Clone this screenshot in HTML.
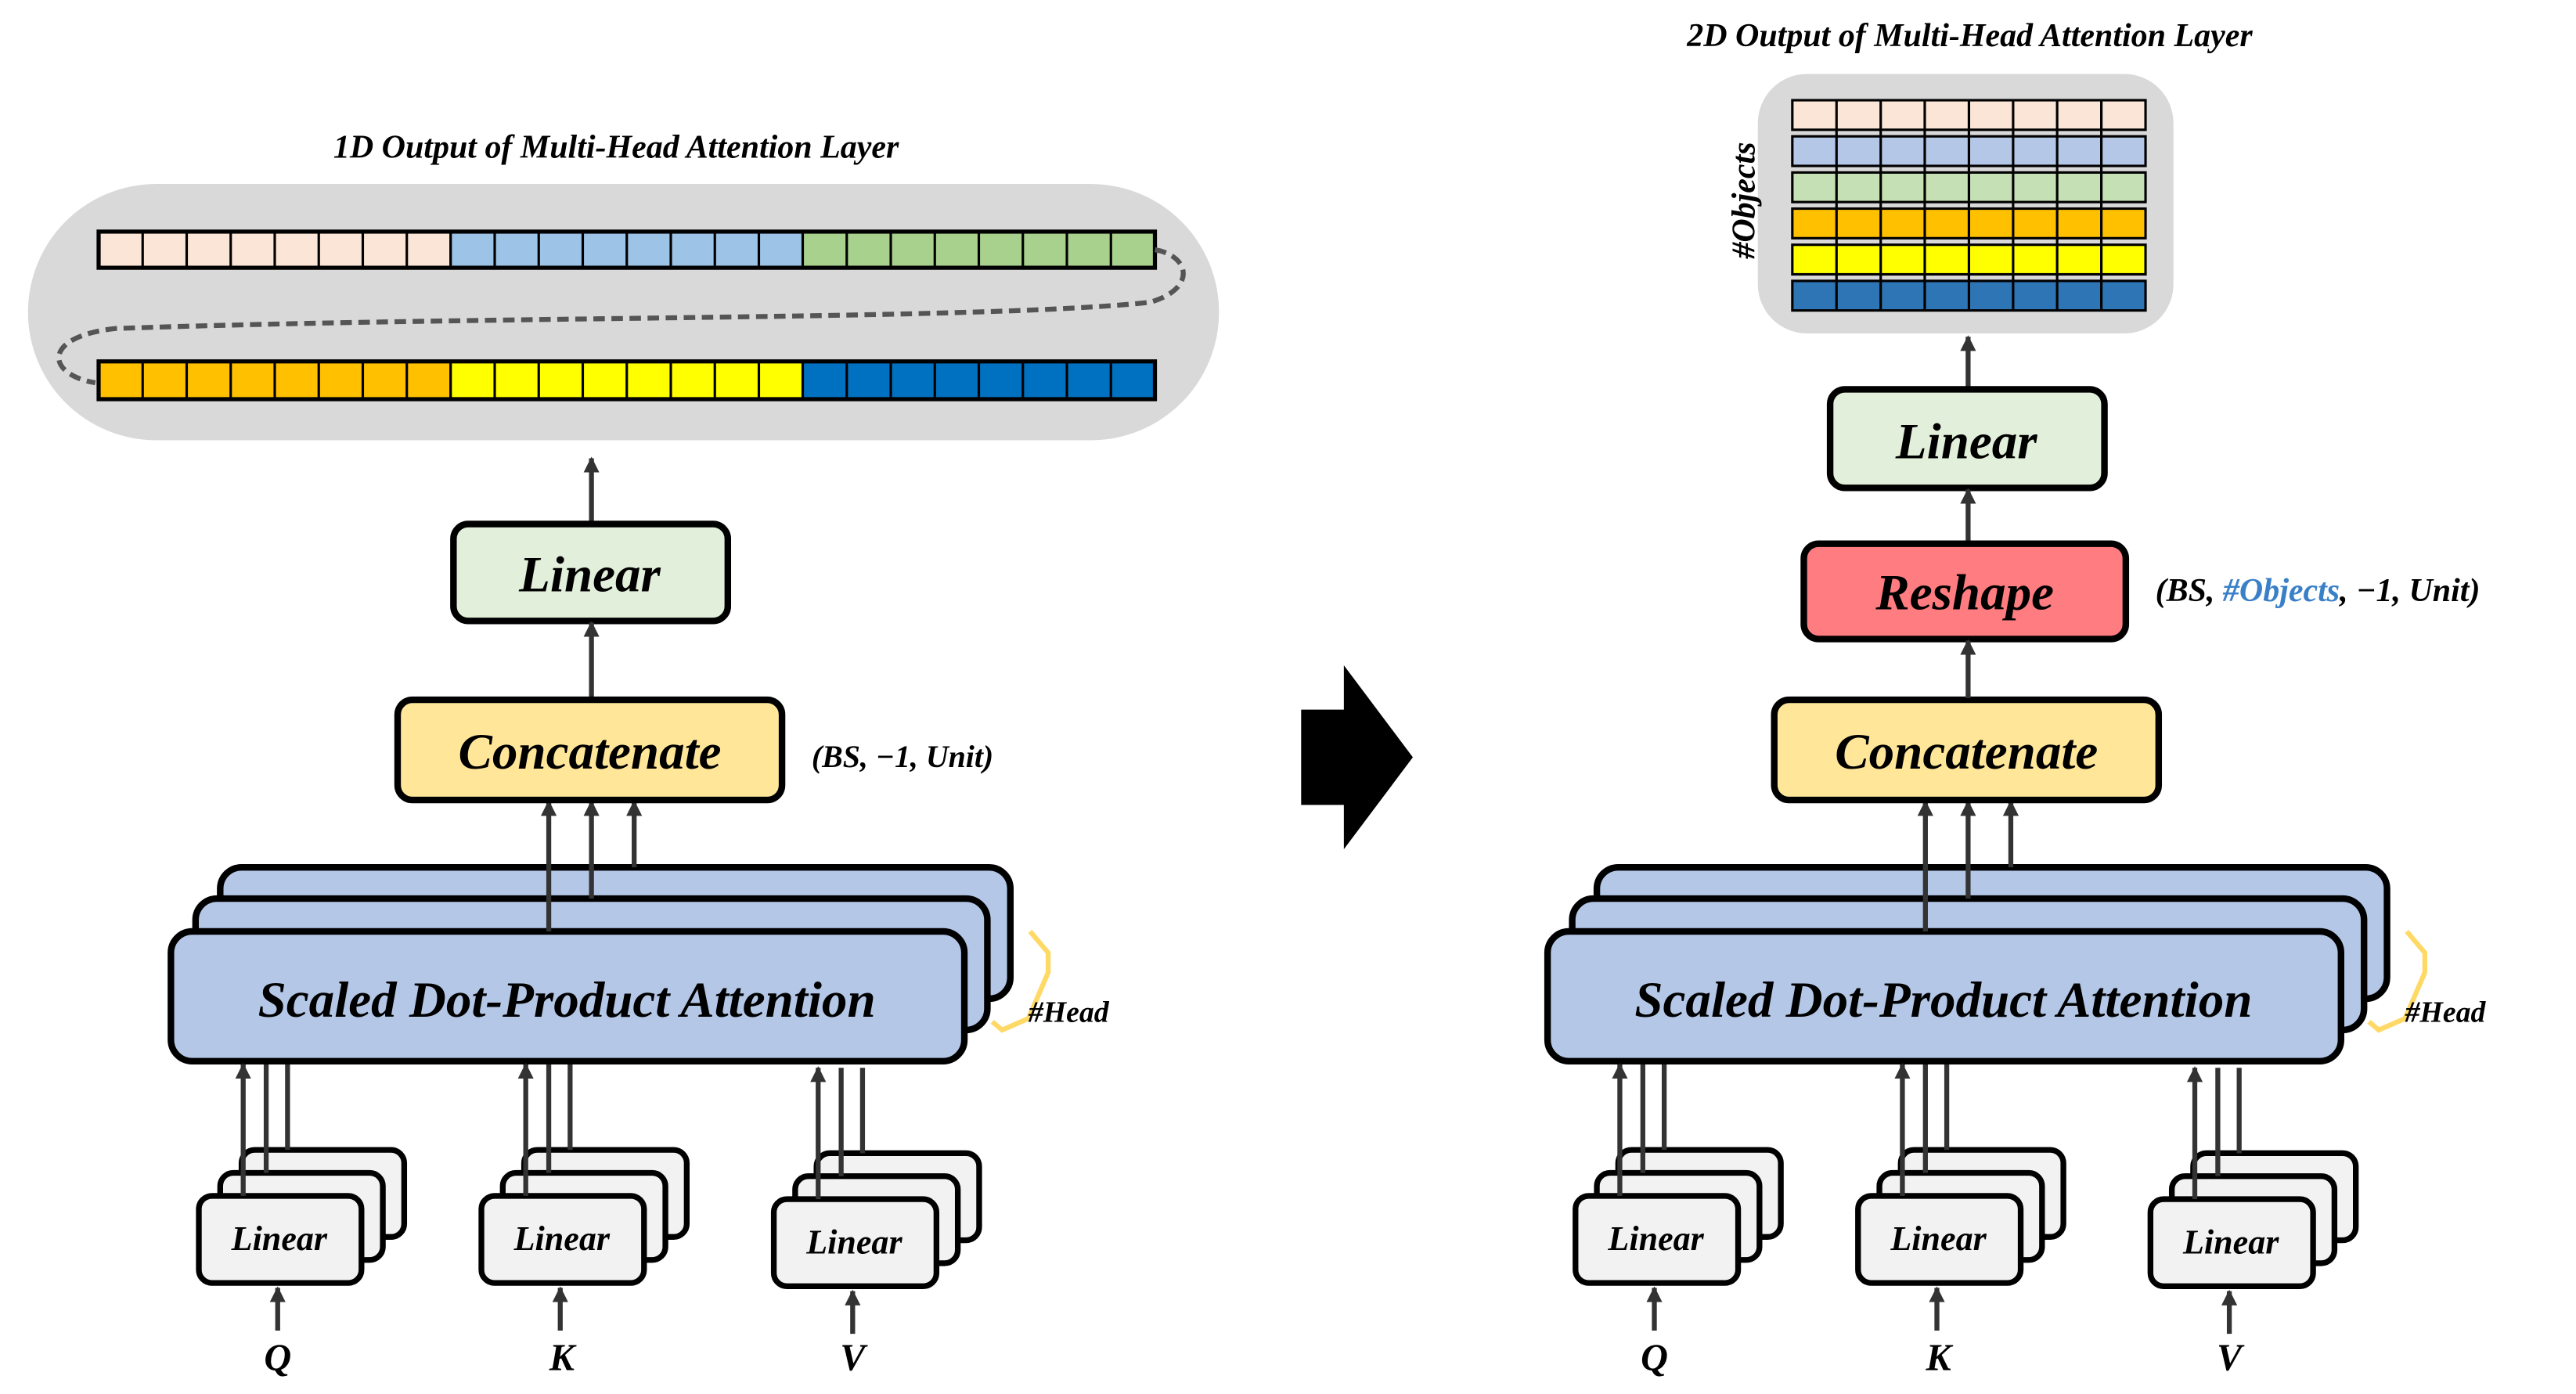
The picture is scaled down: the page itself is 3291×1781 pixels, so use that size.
<!DOCTYPE html>
<html><head><meta charset="utf-8"><style>
html,body{margin:0;padding:0;background:#fff;}
svg{display:block;}
svg text{font-family:"Liberation Serif","Times New Roman","DejaVu Serif",serif;font-weight:bold;font-style:italic;fill:#000;}
</style></head><body>
<svg width="3291" height="1781" viewBox="0 0 1568 848.6" xmlns="http://www.w3.org/2000/svg" font-family="Liberation Serif, Times New Roman, DejaVu Serif, serif" font-weight="bold" font-style="italic">
<defs>
<marker id="ah" viewBox="0 0 10 10" refX="9" refY="5" markerWidth="3.2" markerHeight="3.2" orient="auto" markerUnits="strokeWidth">
<path d="M0,0 L10,5 L0,10 z" fill="#333"/></marker>
<g id="lin">
 <rect x="26" y="-28" width="99" height="53" rx="8" fill="#f2f2f2" stroke="#000" stroke-width="3.5"/>
 <rect x="13" y="-14" width="99" height="53" rx="8" fill="#f2f2f2" stroke="#000" stroke-width="3.5"/>
 <rect x="0" y="0" width="99" height="53" rx="8" fill="#f2f2f2" stroke="#000" stroke-width="3.5"/>
 <text x="49" y="33" font-size="21" text-anchor="middle">Linear</text>
 <line x1="27" y1="0" x2="27" y2="-80" stroke="#333" stroke-width="3" marker-end="url(#ah)"/>
 <line x1="41" y1="-14" x2="41" y2="-80" stroke="#333" stroke-width="3"/>
 <line x1="54" y1="-28" x2="54" y2="-80" stroke="#333" stroke-width="3"/>
 <line x1="48" y1="82" x2="48" y2="56" stroke="#333" stroke-width="3" marker-end="url(#ah)"/>
</g>
<g id="bottom">
 <rect x="134" y="528" width="481" height="80" rx="13" fill="#b4c7e7" stroke="#000" stroke-width="4"/>
 <rect x="119" y="547" width="482" height="80" rx="13" fill="#b4c7e7" stroke="#000" stroke-width="4"/>
 <rect x="104" y="567" width="483" height="79" rx="13" fill="#b4c7e7" stroke="#000" stroke-width="4"/>
 <text x="345" y="619" font-size="31" text-anchor="middle">Scaled Dot-Product Attention</text>
 <path d="M627,567 L638,580 L638,592 L626,620 L610,627 L604,622" fill="none" stroke="#ffd966" stroke-width="3"/>
 <text x="626" y="622" font-size="18">#Head</text>
 <line x1="334" y1="567" x2="334" y2="488" stroke="#333" stroke-width="3" marker-end="url(#ah)"/>
 <line x1="360" y1="547" x2="360" y2="488" stroke="#333" stroke-width="3" marker-end="url(#ah)"/>
 <line x1="386" y1="528" x2="386" y2="488" stroke="#333" stroke-width="3" marker-end="url(#ah)"/>
 <rect x="242" y="426" width="234" height="61" rx="9" fill="#ffe699" stroke="#000" stroke-width="4"/>
 <text x="359" y="468" font-size="31" text-anchor="middle">Concatenate</text>
 <use href="#lin" x="121" y="728"/>
 <use href="#lin" x="293" y="728"/>
 <use href="#lin" x="471" y="730"/>
 <text x="169" y="834" font-size="23" text-anchor="middle">Q</text>
 <text x="342" y="834" font-size="23" text-anchor="middle">K</text>
 <text x="519" y="834" font-size="23" text-anchor="middle">V</text>
</g>
</defs>

<!-- LEFT -->
<text x="375" y="96" font-size="20" text-anchor="middle">1D Output of Multi-Head Attention Layer</text>
<rect x="17" y="112" width="725" height="156" rx="78" fill="#d9d9d9"/>
<g stroke="#000" stroke-width="1.5">
<rect x="60" y="141" width="214.3" height="22" fill="#fbe5d6"/>
<rect x="274.3" y="141" width="214.3" height="22" fill="#9dc3e6"/>
<rect x="488.6" y="141" width="214.4" height="22" fill="#a9d18e"/>
<rect x="60" y="220" width="214.3" height="23" fill="#ffc000"/>
<rect x="274.3" y="220" width="214.3" height="23" fill="#ffff00"/>
<rect x="488.6" y="220" width="214.4" height="23" fill="#0070c0"/>
<path d="M86.8,141v22M113.6,141v22M140.4,141v22M167.2,141v22M194,141v22M220.8,141v22M247.6,141v22M301.1,141v22M327.9,141v22M354.7,141v22M381.5,141v22M408.3,141v22M435.1,141v22M461.9,141v22M515.4,141v22M542.2,141v22M569,141v22M595.8,141v22M622.6,141v22M649.4,141v22M676.2,141v22"/>
<path d="M86.8,220v23M113.6,220v23M140.4,220v23M167.2,220v23M194,220v23M220.8,220v23M247.6,220v23M301.1,220v23M327.9,220v23M354.7,220v23M381.5,220v23M408.3,220v23M435.1,220v23M461.9,220v23M515.4,220v23M542.2,220v23M569,220v23M595.8,220v23M622.6,220v23M649.4,220v23M676.2,220v23"/>
</g>
<rect x="60" y="141" width="643" height="22" fill="none" stroke="#000" stroke-width="2.5"/>
<rect x="60" y="220" width="643" height="23" fill="none" stroke="#000" stroke-width="2.5"/>
<path d="M703,152 C725,156 728,176 700,184 C600,195 300,192 70,200 C25,205 28,228 58,233" fill="none" stroke="#555" stroke-width="3" stroke-dasharray="7,4"/>
<line x1="360" y1="318" x2="360" y2="279" stroke="#333" stroke-width="3" marker-end="url(#ah)"/>
<rect x="276" y="319" width="167" height="59" rx="9" fill="#e2efda" stroke="#000" stroke-width="4"/>
<text x="359" y="360" font-size="31" text-anchor="middle">Linear</text>
<line x1="360" y1="425" x2="360" y2="379" stroke="#333" stroke-width="3" marker-end="url(#ah)"/>
<use href="#bottom"/>
<text x="494" y="467" font-size="19">(BS, −1, Unit)</text>

<!-- MIDDLE ARROW -->
<path d="M792,432 L818,432 L818,405 L860,461 L818,517 L818,490 L792,490 z" fill="#000"/>

<!-- RIGHT -->
<use href="#bottom" x="838"/>
<text x="1199" y="28" font-size="20" text-anchor="middle">2D Output of Multi-Head Attention Layer</text>
<rect x="1070" y="45" width="253" height="158" rx="30" fill="#d9d9d9"/>
<g stroke="#000" stroke-width="1.5">
<rect x="1091" y="61" width="215" height="18" fill="#fbe5d6"/>
<rect x="1091" y="83" width="215" height="18" fill="#b4c7e7"/>
<rect x="1091" y="105" width="215" height="18" fill="#c5e0b4"/>
<rect x="1091" y="127" width="215" height="18" fill="#ffc000"/>
<rect x="1091" y="149" width="215" height="18" fill="#ffff00"/>
<rect x="1091" y="171" width="215" height="18" fill="#2e75b6"/>
<path d="M1117.9,61V189M1144.8,61V189M1171.6,61V189M1198.5,61V189M1225.4,61V189M1252.2,61V189M1279.1,61V189" />
</g>
<text transform="translate(1068,122) rotate(-90)" font-size="20" text-anchor="middle">#Objects</text>
<line x1="1198" y1="236" x2="1198" y2="205" stroke="#333" stroke-width="3" marker-end="url(#ah)"/>
<rect x="1114" y="237" width="167" height="60" rx="9" fill="#e2efda" stroke="#000" stroke-width="4"/>
<text x="1197" y="279" font-size="31" text-anchor="middle">Linear</text>
<line x1="1198" y1="330" x2="1198" y2="298" stroke="#333" stroke-width="3" marker-end="url(#ah)"/>
<rect x="1098" y="331" width="196" height="58" rx="9" fill="#ff7c80" stroke="#000" stroke-width="4"/>
<text x="1196" y="371" font-size="31" text-anchor="middle">Reshape</text>
<line x1="1198" y1="425" x2="1198" y2="390" stroke="#333" stroke-width="3" marker-end="url(#ah)"/>
<text x="1312" y="366" font-size="20">(BS, <tspan style="fill:#3a80c8">#Objects</tspan>, −1, Unit)</text>
</svg>
</body></html>
